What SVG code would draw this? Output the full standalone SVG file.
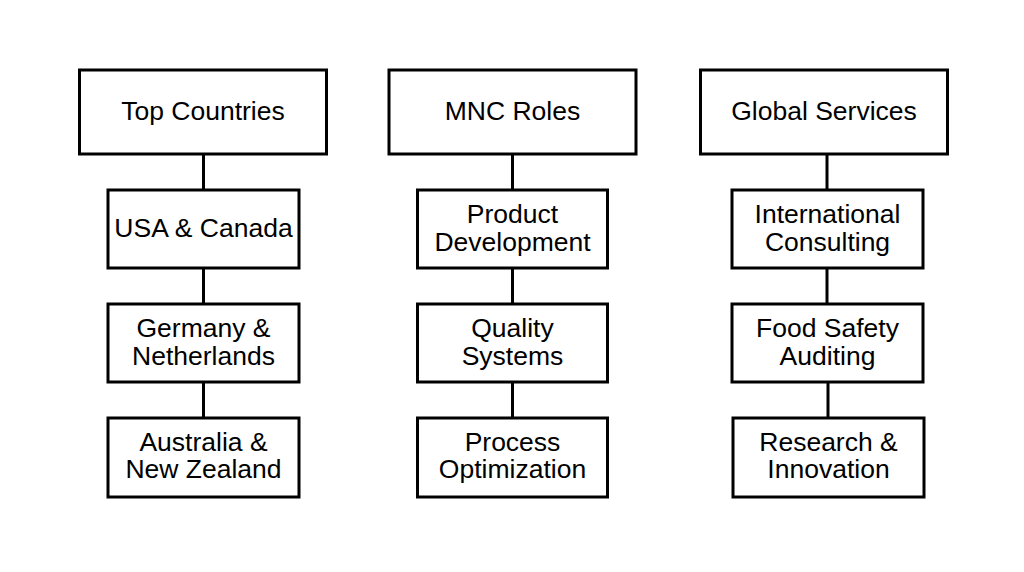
<svg xmlns="http://www.w3.org/2000/svg" width="1024" height="572" viewBox="0 0 1024 572">
<style>
.box{fill:#fff;stroke:#000;stroke-width:3}
.t{font-family:"Liberation Sans",Arial,sans-serif;font-size:26.5px;fill:#000;text-anchor:middle}
.c{stroke:#000;stroke-width:3;fill:none}
</style>
<rect width="1024" height="572" fill="#fff"/>
<g id="connectors">
<line class="c" x1="203.5" y1="154" x2="203.5" y2="190"/>
<line class="c" x1="203.5" y1="268" x2="203.5" y2="304"/>
<line class="c" x1="203.5" y1="382" x2="203.5" y2="418"/>
<line class="c" x1="512.5" y1="154" x2="512.5" y2="190"/>
<line class="c" x1="512.5" y1="268" x2="512.5" y2="304"/>
<line class="c" x1="512.5" y1="382" x2="512.5" y2="418"/>
<line class="c" x1="827" y1="154" x2="827" y2="190"/>
<line class="c" x1="827" y1="268" x2="827" y2="304"/>
<line class="c" x1="828" y1="382" x2="828" y2="418"/>
</g>
<g id="top-countries"><rect class="box" x="79.5" y="70" width="247" height="84"/><text class="t" x="203" y="120">Top Countries</text></g>
<g id="usa-canada"><rect class="box" x="108" y="190" width="191" height="78"/><text class="t" x="203.5" y="237">USA &amp; Canada</text></g>
<g id="germany-netherlands"><rect class="box" x="108" y="304" width="191" height="78"/><text class="t" x="203.5" y="337">Germany &amp;</text><text class="t" x="203.5" y="364.5">Netherlands</text></g>
<g id="australia-nz"><rect class="box" x="108" y="418" width="191" height="79"/><text class="t" x="203.5" y="450.5">Australia &amp;</text><text class="t" x="203.5" y="478">New Zealand</text></g>
<g id="mnc-roles"><rect class="box" x="389" y="70" width="247" height="84"/><text class="t" x="512.5" y="120">MNC Roles</text></g>
<g id="product-development"><rect class="box" x="417.5" y="190" width="190" height="78"/><text class="t" x="512.5" y="223">Product</text><text class="t" x="512.5" y="250.5">Development</text></g>
<g id="quality-systems"><rect class="box" x="417.5" y="304" width="190" height="78"/><text class="t" x="512.5" y="337">Quality</text><text class="t" x="512.5" y="364.5">Systems</text></g>
<g id="process-optimization"><rect class="box" x="417.5" y="418" width="190" height="79"/><text class="t" x="512.5" y="450.5">Process</text><text class="t" x="512.5" y="478">Optimization</text></g>
<g id="global-services"><rect class="box" x="700.5" y="70" width="247" height="84"/><text class="t" x="824" y="120">Global Services</text></g>
<g id="international-consulting"><rect class="box" x="732" y="190" width="191" height="78"/><text class="t" x="827.5" y="223">International</text><text class="t" x="827.5" y="250.5">Consulting</text></g>
<g id="food-safety-auditing"><rect class="box" x="732" y="304" width="191" height="78"/><text class="t" x="827.5" y="337">Food Safety</text><text class="t" x="827.5" y="364.5">Auditing</text></g>
<g id="research-innovation"><rect class="box" x="733" y="418" width="191" height="79"/><text class="t" x="828.5" y="450.5">Research &amp;</text><text class="t" x="828.5" y="478">Innovation</text></g>
</svg>
